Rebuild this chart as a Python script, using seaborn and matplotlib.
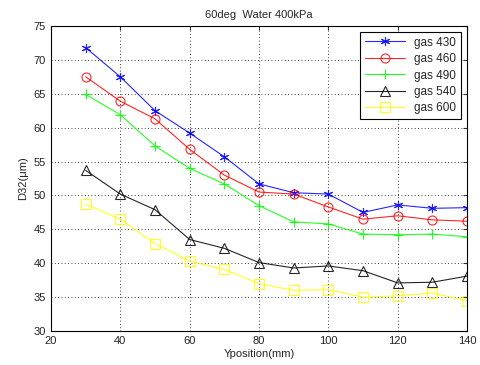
import matplotlib
matplotlib.use("Agg")
import matplotlib.pyplot as plt
import seaborn as sns
import pandas as pd

# x positions (mm)
ypos = [30, 40, 50, 60, 70, 80, 90, 100, 110, 120, 130, 140]

gas_430 = [71.8, 67.5, 62.5, 59.2, 55.7, 51.7, 50.4, 50.2, 47.5, 48.6, 48.1, 48.2]
gas_460 = [67.5, 63.9, 61.3, 56.8, 53.0, 50.5, 50.2, 48.3, 46.5, 47.0, 46.4, 46.2]
gas_490 = [64.9, 61.9, 57.3, 54.0, 51.7, 48.5, 46.1, 45.8, 44.3, 44.2, 44.3, 43.9]
gas_540 = [53.7, 50.2, 47.9, 43.5, 42.2, 40.1, 39.3, 39.6, 38.9, 37.1, 37.2, 38.1]
gas_600 = [48.7, 46.5, 42.9, 40.3, 39.1, 37.0, 36.0, 36.1, 35.0, 35.2, 35.6, 34.5]

series_names = ["gas 430", "gas 460", "gas 490", "gas 540", "gas 600"]
series_vals = [gas_430, gas_460, gas_490, gas_540, gas_600]

rows = []
for name, vals in zip(series_names, series_vals):
    for x, v in zip(ypos, vals):
        rows.append({"Yposition": x, "D32": v, "series": name})
df = pd.DataFrame(rows)

sns.set_style("white")
plt.rcParams["font.family"] = ["Liberation Sans", "DejaVu Sans"]
plt.rcParams["font.size"] = 8

colors = ["#0000ff", "#ff0000", "#00ff00", "#000000", "#ffff00"]
markers = [(6, 2, 0), "o", "+", "^", "s"]

fig = plt.figure(figsize=(4.81, 3.65), dpi=100)
ax = fig.add_axes([0.106, 0.093, 0.865, 0.836])

for name, c, m in zip(series_names, colors, markers):
    sub = df[df["series"] == name]
    sns.lineplot(data=sub, x="Yposition", y="D32", ax=ax, color=c, marker=m,
                 markersize=6.5, markerfacecolor="none", markeredgecolor=c,
                 markeredgewidth=0.8, linewidth=0.8, alpha=0.85, label=name)

ax.set_xlim(20, 140)
ax.set_ylim(30, 75)
ax.set_xticks(range(20, 141, 20))
ax.set_yticks(range(30, 76, 5))
ax.grid(True, linestyle=(0, (1, 3)), color="black", linewidth=0.6)
ax.tick_params(direction="in", top=True, right=True, length=3, labelsize=8,
               colors="#333333", labelcolor="#222222")
for s in ax.spines.values():
    s.set_visible(True)
    s.set_color("black")
    s.set_linewidth(0.8)

ax.set_xlabel("Yposition(mm)", fontsize=8, labelpad=2)
ax.set_ylabel("D32(\u03bcm)", fontsize=8, labelpad=4)
ax.set_title("60deg  Water 400kPa", fontsize=8, pad=6)

leg = ax.legend(loc="upper right", fontsize=8.5, frameon=True, fancybox=False,
                edgecolor="black", framealpha=1, handlelength=3.4,
                borderaxespad=0.5, labelspacing=0.38)
leg.get_frame().set_linewidth(0.8)

fig.savefig("out.png", dpi=100)
